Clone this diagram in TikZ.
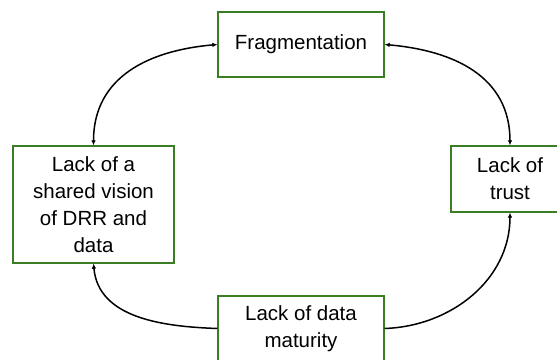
\documentclass[tikz,border=0pt]{standalone}
\usepackage{fontspec}
\setmainfont{Liberation Sans}
\usetikzlibrary{arrows.meta}
\definecolor{boxgreen}{RGB}{58,125,34}
\begin{document}
\begin{tikzpicture}[x=1pt,y=1pt,
  box/.style={draw=boxgreen,line width=1.3pt,fill=white,align=center,
    inner sep=0pt,font=\fontsize{20.5}{27}\selectfont},
  link/.style={line width=1.5pt,black,{Latex[length=5pt,width=4.5pt]}-{Latex[length=5pt,width=4.5pt]}},
  onelink/.style={line width=1.5pt,black,-{Latex[length=5pt,width=4.5pt]}}]
\useasboundingbox (0,0) rectangle (557,359);
\clip (0,0) rectangle (557,359);
\node[box,minimum width=166pt,minimum height=65pt] (frag) at (301,314.5) {Fragmentation};
\node[box,minimum width=161pt,minimum height=117pt] (vision) at (93.5,154.5) {Lack of a\\shared vision\\of DRR and\\data};
\node[box,minimum width=118pt,minimum height=66pt] (trust) at (510,180) {Lack of\\trust};
\node[box,minimum width=166pt,minimum height=65pt] (mat) at (301,30.5) {Lack of data\\maturity};
\draw[link] (vision.north) to[out=90,in=185,looseness=1.1] (frag.west);
\draw[link] (frag.east) to[out=-5,in=90,looseness=1.1] (trust.north);
\draw[onelink] (mat.west) to[out=178,in=-85] (vision.south);
\draw[onelink] (mat.east) to[out=2,in=-90] (trust.south);
\end{tikzpicture}
\end{document}
